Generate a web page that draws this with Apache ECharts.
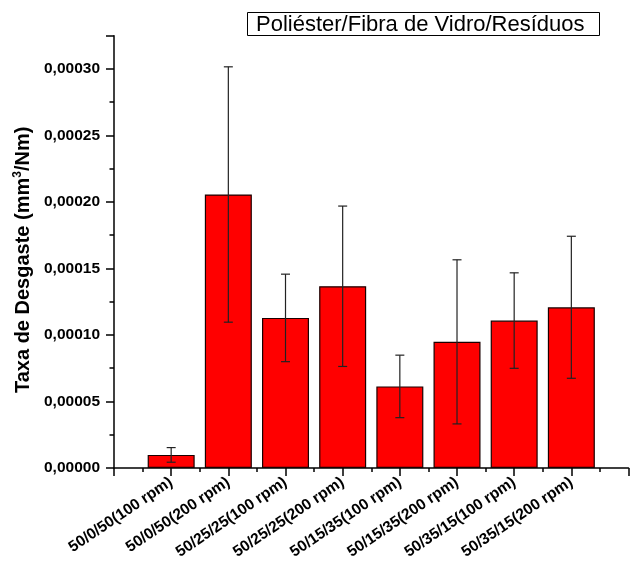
<!DOCTYPE html>
<html>
<head>
<meta charset="utf-8">
<script src="https://cdn.jsdelivr.net/npm/echarts@6/dist/echarts.min.js"></script>
<style>
  html, body { margin: 0; padding: 0; background: #fff; }
  #chart { width: 631px; height: 562px; }
</style>
</head>
<body>
<div id="chart"></div>
<script>
// Wear-rate samples (polyester / glass fibre / residue mixes at two speeds)
const categories = [
  '50/0/50(100 rpm)', '50/0/50(200 rpm)',
  '50/25/25(100 rpm)', '50/25/25(200 rpm)',
  '50/15/35(100 rpm)', '50/15/35(200 rpm)',
  '50/35/15(100 rpm)', '50/35/15(200 rpm)'
];
const wearRate  = [0.0000098, 0.0002056, 0.0001128, 0.0001366, 0.0000613, 0.0000948, 0.0001108, 0.0001208];
const wearError = [0.0000055, 0.0000960, 0.0000329, 0.0000603, 0.0000235, 0.0000617, 0.0000359, 0.0000534];
const yTickStep = 0.00005;
const yMax = 0.000325;
const legendText = 'Poliéster/Fibra de Vidro/Resíduos';

const FONT = "'Liberation Sans', Arial, sans-serif";

// bars sit at x = 1..8 on a 0..9 value axis
const barData = wearRate.map((v, i) => [i + 1, v]);
const errData = wearRate.map((v, i) => [i + 1, v, wearError[i]]);

const chart = echarts.init(document.getElementById('chart'), null, { renderer: 'canvas' });

chart.setOption({
  animation: false,
  backgroundColor: '#fff',
  title: {
    text: legendText,
    left: 247,
    top: 12,
    padding: [1, 15, 0, 9],
    borderColor: '#000',
    borderWidth: 1,
    textStyle: { fontFamily: FONT, fontSize: 22, fontWeight: 'normal', color: '#000', lineHeight: 23 }
  },
  grid: { left: 114, top: 35.7, bottom: 93.4, right: -6, containLabel: false },
  xAxis: {
    type: 'value',
    min: 0,
    max: 9,
    interval: 1,
    axisLine: { show: true, lineStyle: { color: '#000', width: 1.5 } },
    axisTick: { show: true, inside: false, length: 8, lineStyle: { color: '#000', width: 1.5 } },
    minorTick: { show: true, splitNumber: 2, length: 4, lineStyle: { color: '#000', width: 1.5 } },
    splitLine: { show: false },
    axisLabel: {
      rotate: 34,
      margin: 13,
      fontFamily: FONT,
      fontSize: 15.5,
      fontWeight: 'bold',
      color: '#000',
      formatter: v => categories[v - 1] || ''
    }
  },
  yAxis: {
    type: 'value',
    min: 0,
    max: yMax,
    interval: yTickStep,
    name: '{t|Taxa de Desgaste (mm}{s|3}{t|/Nm)}',
    nameLocation: 'middle',
    nameGap: 80,
    nameRotate: 90,
    nameTextStyle: {
      padding: [0, 16, 0, 0],
      rich: {
        t: { fontFamily: FONT, fontSize: 20, fontWeight: 'bold', color: '#000' },
        s: { fontFamily: FONT, fontSize: 12, fontWeight: 'bold', color: '#000', padding: [0, 0, 10, 0] }
      }
    },
    axisLine: { show: true, lineStyle: { color: '#000', width: 1.5 } },
    axisTick: { show: true, inside: false, length: 8, lineStyle: { color: '#000', width: 1.5 } },
    minorTick: { show: true, splitNumber: 2, length: 4.5, lineStyle: { color: '#000', width: 1.5 } },
    splitLine: { show: false },
    axisLabel: {
      margin: 14,
      fontFamily: FONT,
      fontSize: 15.5,
      fontWeight: 'bold',
      color: '#000',
      formatter: v => {
        const k = Math.round(v / yTickStep);
        if (Math.abs(v - k * yTickStep) > 1e-12) return '';
        return (k * yTickStep).toFixed(5).replace('.', ',');
      }
    }
  },
  series: [
    {
      type: 'bar',
      data: barData,
      barWidth: 47,
      itemStyle: { color: '#ff0000', borderColor: '#1a0000', borderWidth: 1.2 },
      z: 2
    },
    {
      type: 'custom',
      data: errData,
      z: 5,
      renderItem: (params, api) => {
        const x = api.value(0), y = api.value(1), e = api.value(2);
        const top = api.coord([x, y + e]);
        const bot = api.coord([x, y - e]);
        const hw = 4.5;
        const style = { stroke: '#222', lineWidth: 1.2 };
        return {
          type: 'group',
          children: [
            { type: 'line', shape: { x1: top[0], y1: top[1], x2: bot[0], y2: bot[1] }, style },
            { type: 'line', shape: { x1: top[0] - hw, y1: top[1], x2: top[0] + hw, y2: top[1] }, style },
            { type: 'line', shape: { x1: bot[0] - hw, y1: bot[1], x2: bot[0] + hw, y2: bot[1] }, style }
          ]
        };
      }
    }
  ]
});
</script>
</body>
</html>
